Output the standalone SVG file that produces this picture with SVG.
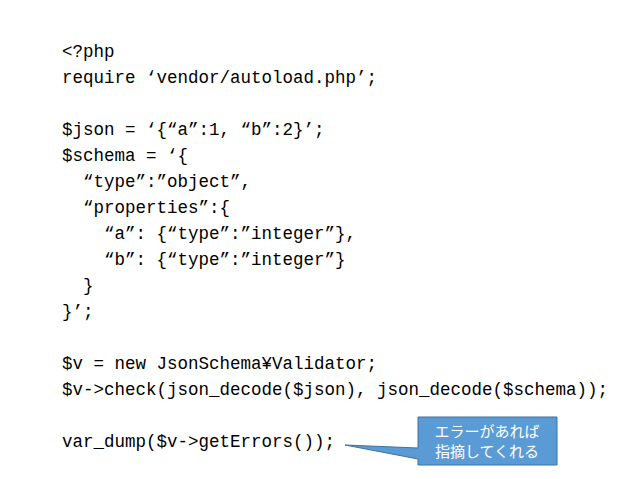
<svg xmlns="http://www.w3.org/2000/svg" width="638" height="479" viewBox="0 0 638 479">
<style>
.c{font-family:"Liberation Mono","DejaVu Sans Mono",monospace;font-size:17.5px;fill:#000;white-space:pre}
.t{font-family:"Noto Sans CJK JP",sans-serif;font-size:15px;fill:#fff;text-anchor:middle}
</style>
<rect width="638" height="479" fill="#fff"/>
<g id="code">
<text class="c" x="62" y="57">&lt;?php</text>
<text class="c" x="62" y="83">require ‘vendor/autoload.php’;</text>
<text class="c" x="62" y="135">$json = ‘{“a”:1, “b”:2}’;</text>
<text class="c" x="62" y="161">$schema = ‘{</text>
<text class="c" x="62" y="187">  “type”:”object”,</text>
<text class="c" x="62" y="213">  “properties”:{</text>
<text class="c" x="62" y="239">    “a”: {“type”:”integer”},</text>
<text class="c" x="62" y="265">    “b”: {“type”:”integer”}</text>
<text class="c" x="62" y="291">  }</text>
<text class="c" x="62" y="317">}’;</text>
<text class="c" x="62" y="369">$v = new JsonSchema¥Validator;</text>
<text class="c" x="62" y="395">$v-&gt;check(json_decode($json), json_decode($schema));</text>
<text class="c" x="62" y="447">var_dump($v-&gt;getErrors());</text>
</g>
<g id="callout">
<path d="M418,417 H557 V465 H418 V459 L345,445 L418,448 Z" fill="#5b9bd5" stroke="#41719c" stroke-width="1"/>
<text class="t" x="487" y="437">エラーがあれば</text>
<text class="t" x="487" y="457">指摘してくれる</text>
</g>
</svg>
